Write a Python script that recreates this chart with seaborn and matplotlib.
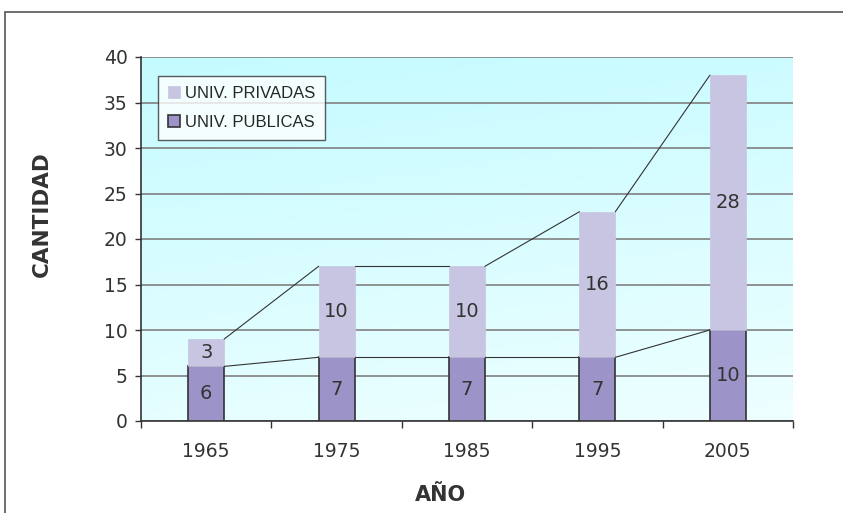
import numpy as np
import pandas as pd
import seaborn as sns
import matplotlib.pyplot as plt
from matplotlib.patches import Rectangle
from matplotlib.colors import LinearSegmentedColormap

# Data
years = ['1965', '1975', '1985', '1995', '2005']
publicas = [6, 7, 7, 7, 10]
privadas = [3, 10, 10, 16, 28]

df = pd.DataFrame({'AÑO': years, 'PUBLICAS': publicas, 'PRIVADAS': privadas})
df['TOTAL'] = df['PUBLICAS'] + df['PRIVADAS']

sns.set_style('white')
plt.rcParams['font.family'] = ['DejaVu Sans']
plt.rcParams['xtick.bottom'] = True
plt.rcParams['ytick.left'] = True

fig = plt.figure(figsize=(8.43, 5.13), dpi=100)
ax = fig.add_axes([141 / 843, 92 / 513, (793 - 141) / 843, (421 - 57) / 513])

# outer chart border
fig.patches.append(Rectangle((5 / 843, -0.1), 1.2, (513 - 12) / 513 + 0.1,
                             transform=fig.transFigure, fill=False,
                             edgecolor='#555555', linewidth=1.2))

# gradient background
grad = LinearSegmentedColormap.from_list('bg', ['#EEFFFF', '#C4FBFF'])
yy = np.linspace(0, 1, 256).reshape(-1, 1)
xx = np.linspace(0, 1, 256).reshape(1, -1)
img = 0.8 * yy + 0.2 * (1 - xx)
ax.imshow(img, cmap=grad, origin='lower', aspect='auto',
          extent=[-0.5, 4.5, 0, 40], zorder=0)

bw = 0.275
sns.barplot(data=df, x='AÑO', y='PUBLICAS', color='#9C94C8', width=bw,
            edgecolor='#333333', linewidth=1.2, saturation=1, ax=ax, zorder=3,
            label='UNIV. PUBLICAS')
sns.barplot(data=df, x='AÑO', y='PRIVADAS', bottom=df['PUBLICAS'], color='#C8C5E3',
            width=bw, edgecolor='#C8C5E3', linewidth=0.5, saturation=1, ax=ax,
            zorder=3, label='UNIV. PRIVADAS')

# series lines between bars
pos = np.arange(len(years))
for col in ['PUBLICAS', 'TOTAL']:
    vals = df[col].values
    for i in range(len(years) - 1):
        ax.plot([pos[i] + bw / 2, pos[i + 1] - bw / 2], [vals[i], vals[i + 1]],
                color='#333333', linewidth=0.8, zorder=4)

# data labels
for i in range(len(years)):
    ax.text(pos[i], publicas[i] / 2, str(publicas[i]), ha='center', va='center',
            fontsize=14, color='#333333', zorder=5)
    ax.text(pos[i], publicas[i] + privadas[i] / 2, str(privadas[i]), ha='center',
            va='center', fontsize=14, color='#333333', zorder=5)

ax.set_xlim(-0.5, 4.5)
ax.set_ylim(0, 40)
ax.set_yticks(range(0, 41, 5))
ax.yaxis.grid(True, color='#808080', linewidth=1.2, zorder=1)
ax.set_axisbelow(True)
ax.set_xticks(pos)
ax.set_xticks(np.arange(-0.5, 5, 1), minor=True)
ax.tick_params(axis='x', which='major', length=0, pad=15, labelsize=13.5, colors='#333333')
ax.tick_params(axis='x', which='minor', bottom=True, length=5, width=1,
               color='#333333', direction='out')
ax.tick_params(axis='y', left=True, length=4.5, width=1, color='#333333',
               direction='out', labelsize=13.5, labelcolor='#333333', pad=5)
for s in ['top', 'right']:
    ax.spines[s].set_visible(False)
for s in ['left', 'bottom']:
    ax.spines[s].set_color('#333333')
    ax.spines[s].set_linewidth(1.2)

ax.set_xlabel('AÑO', fontsize=15, fontweight='bold', color='#333333')
ax.set_ylabel('CANTIDAD', fontsize=15.5, fontweight='bold', color='#333333')
ax.xaxis.set_label_coords((440 - 141) / 652, -(485 - 421) / 364)
ax.yaxis.set_label_coords(-(141 - 52) / 652, (421 - 214) / 364)

h, l = ax.get_legend_handles_labels()
leg = ax.legend(h[::-1], l[::-1], loc='upper left',
                bbox_to_anchor=((158 - 141) / 652, (421 - 76) / 364),
                borderaxespad=0,
                prop={'family': 'Liberation Sans', 'size': 12}, frameon=True,
                fancybox=False, edgecolor='#333333', handlelength=0.7,
                handleheight=0.7, handletextpad=0.3, borderpad=0.6,
                labelspacing=0.85)
leg.get_frame().set_linewidth(1.0)
leg.set_zorder(6)

fig.savefig('out.png', dpi=100)
